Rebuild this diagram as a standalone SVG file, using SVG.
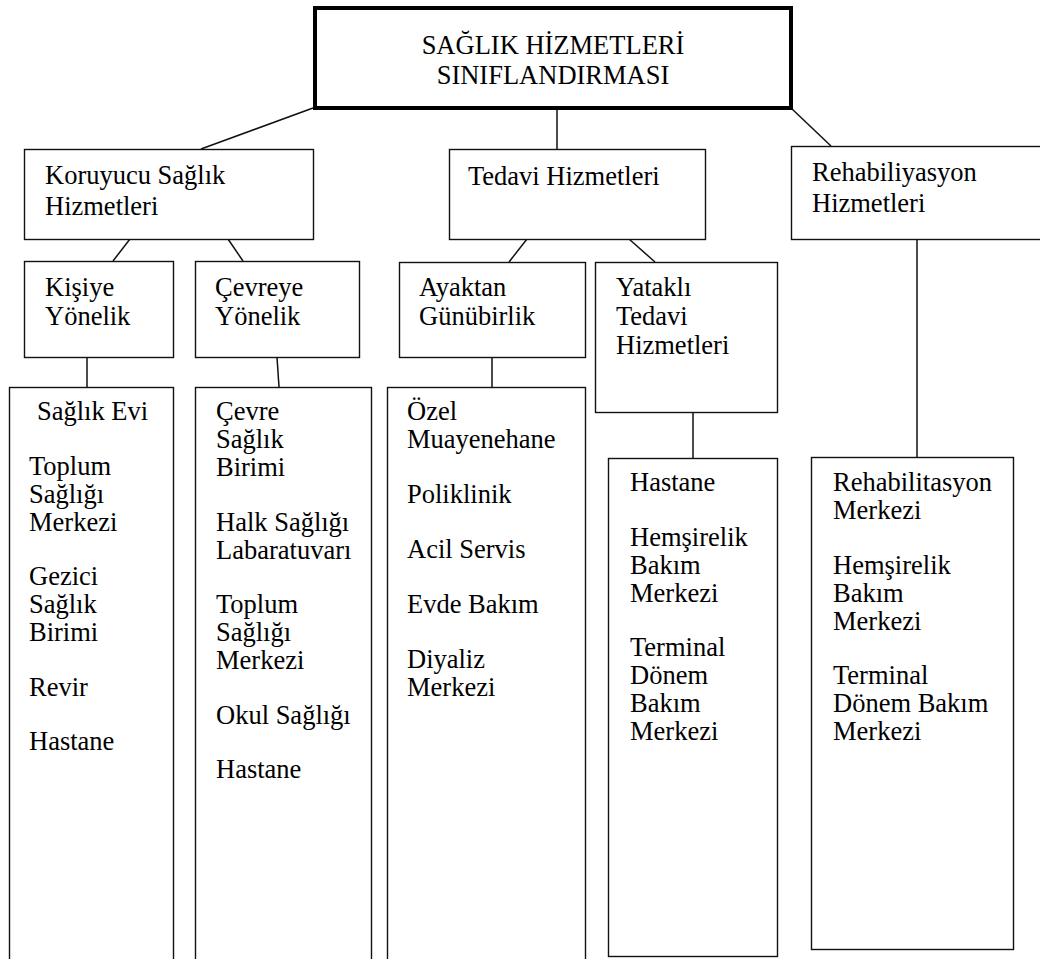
<svg xmlns="http://www.w3.org/2000/svg" width="1040" height="959" viewBox="0 0 1040 959">
<style>
.bx{fill:#fff;stroke:#111;stroke-width:1.4}
.top{fill:#fff;stroke:#000;stroke-width:4}
.ln{stroke:#111;stroke-width:1.5;fill:none}
text{font-family:"Liberation Serif","Times New Roman",serif;font-size:26.5px;fill:#000}
.c{text-anchor:middle}
</style>
<rect width="1040" height="959" fill="#fff"/>
<g id="connectors">
<line class="ln" x1="313" y1="108" x2="201" y2="149"/>
<line class="ln" x1="557" y1="108" x2="557" y2="149"/>
<line class="ln" x1="791" y1="108" x2="831" y2="146"/>
<line class="ln" x1="130" y1="239" x2="113" y2="261"/>
<line class="ln" x1="228" y1="239" x2="243" y2="261"/>
<line class="ln" x1="87" y1="357" x2="87" y2="387"/>
<line class="ln" x1="277" y1="357" x2="279" y2="387"/>
<line class="ln" x1="527" y1="239" x2="509" y2="262"/>
<line class="ln" x1="629" y1="239" x2="655" y2="262"/>
<line class="ln" x1="492" y1="357" x2="492" y2="387"/>
<line class="ln" x1="693" y1="412" x2="693" y2="458"/>
<line class="ln" x1="917" y1="239" x2="917" y2="457"/>
</g>
<g id="root">
<rect class="top" x="315" y="8" width="476" height="100"/>
<text class="c"><tspan x="553" y="54">SAĞLIK HİZMETLERİ</tspan><tspan x="553" y="84">SINIFLANDIRMASI</tspan></text>
</g>
<g id="koruyucu">
<rect class="bx" x="24.5" y="149.5" width="289" height="90"/>
<text><tspan x="45" y="184">Koruyucu Sağlık</tspan><tspan x="45" y="215">Hizmetleri</tspan></text>
</g>
<g id="tedavi">
<rect class="bx" x="449.5" y="149.5" width="256" height="90"/>
<text x="468" y="185">Tedavi Hizmetleri</text>
</g>
<g id="rehab">
<rect class="bx" x="791.5" y="146.5" width="252" height="93"/>
<text><tspan x="812" y="181">Rehabiliyasyon</tspan><tspan x="812" y="212">Hizmetleri</tspan></text>
</g>
<g id="kisiye">
<rect class="bx" x="24.5" y="261.5" width="149" height="96"/>
<text><tspan x="45" y="296">Kişiye</tspan><tspan x="45" y="325">Yönelik</tspan></text>
</g>
<g id="cevreye">
<rect class="bx" x="195.5" y="261.5" width="164" height="96"/>
<text><tspan x="215" y="296">Çevreye</tspan><tspan x="215" y="325">Yönelik</tspan></text>
</g>
<g id="ayaktan">
<rect class="bx" x="399.5" y="262.5" width="186" height="95"/>
<text><tspan x="419" y="296">Ayaktan</tspan><tspan x="419" y="325">Günübirlik</tspan></text>
</g>
<g id="yatakli">
<rect class="bx" x="595.5" y="262.5" width="182" height="150"/>
<text><tspan x="616" y="296">Yataklı</tspan><tspan x="616" y="325">Tedavi</tspan><tspan x="616" y="354">Hizmetleri</tspan></text>
</g>
<g id="kisiye-list">
<rect class="bx" x="9.5" y="387.5" width="164" height="590"/>
<text><tspan x="37" y="420">Sağlık Evi</tspan><tspan x="29" y="474.5">Toplum</tspan><tspan x="29" y="502.5">Sağlığı</tspan><tspan x="29" y="530.5">Merkezi</tspan><tspan x="29" y="585">Gezici</tspan><tspan x="29" y="613">Sağlık</tspan><tspan x="29" y="641">Birimi</tspan><tspan x="29" y="695.5">Revir</tspan><tspan x="29" y="750">Hastane</tspan></text>
</g>
<g id="cevreye-list">
<rect class="bx" x="195.5" y="387.5" width="176" height="590"/>
<text><tspan x="216" y="420">Çevre</tspan><tspan x="216" y="448">Sağlık</tspan><tspan x="216" y="476">Birimi</tspan><tspan x="216" y="530.5">Halk Sağlığı</tspan><tspan x="216" y="558.5">Labaratuvarı</tspan><tspan x="216" y="613">Toplum</tspan><tspan x="216" y="641">Sağlığı</tspan><tspan x="216" y="669">Merkezi</tspan><tspan x="216" y="723.5">Okul Sağlığı</tspan><tspan x="216" y="778">Hastane</tspan></text>
</g>
<g id="ayaktan-list">
<rect class="bx" x="387.5" y="387.5" width="198" height="590"/>
<text><tspan x="407" y="420">Özel</tspan><tspan x="407" y="448">Muayenehane</tspan><tspan x="407" y="503">Poliklinik</tspan><tspan x="407" y="558">Acil Servis</tspan><tspan x="407" y="613">Evde Bakım</tspan><tspan x="407" y="668">Diyaliz</tspan><tspan x="407" y="696">Merkezi</tspan></text>
</g>
<g id="yatakli-list">
<rect class="bx" x="608.5" y="458.5" width="169" height="498"/>
<text><tspan x="630" y="491">Hastane</tspan><tspan x="630" y="545.5">Hemşirelik</tspan><tspan x="630" y="573.5">Bakım</tspan><tspan x="630" y="601.5">Merkezi</tspan><tspan x="630" y="656">Terminal</tspan><tspan x="630" y="684">Dönem</tspan><tspan x="630" y="712">Bakım</tspan><tspan x="630" y="740">Merkezi</tspan></text>
</g>
<g id="rehab-list">
<rect class="bx" x="811.5" y="457.5" width="202" height="492"/>
<text><tspan x="833" y="491">Rehabilitasyon</tspan><tspan x="833" y="519">Merkezi</tspan><tspan x="833" y="573.5">Hemşirelik</tspan><tspan x="833" y="601.5">Bakım</tspan><tspan x="833" y="629.5">Merkezi</tspan><tspan x="833" y="684">Terminal</tspan><tspan x="833" y="712">Dönem Bakım</tspan><tspan x="833" y="740">Merkezi</tspan></text>
</g>
</svg>
